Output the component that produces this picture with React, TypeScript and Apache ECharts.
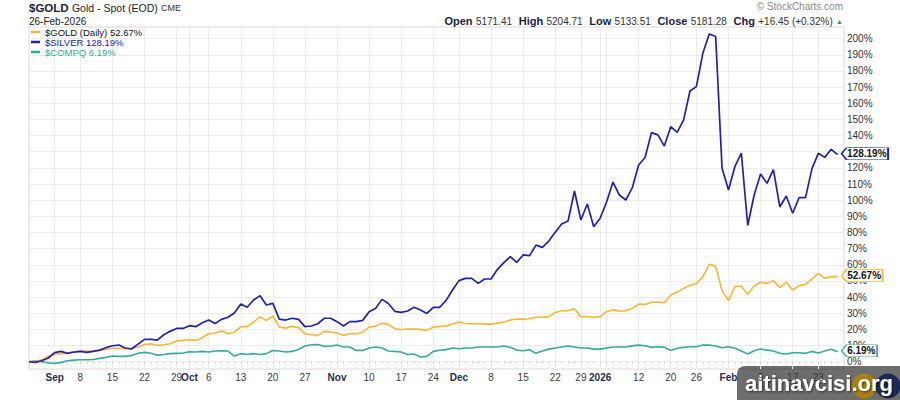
import React, { useEffect, useRef } from 'react';
import * as echarts from 'echarts';

const FONT = '"Liberation Sans", Arial, Helvetica, sans-serif';
const monthNames = ['Jan', 'Feb', 'Mar', 'Apr', 'May', 'Jun', 'Jul', 'Aug', 'Sep', 'Oct', 'Nov', 'Dec'];

// trading sessions: [year, monthIndex, days]
const sessions: [number, number, number[]][] = [
  [2025, 7, [26, 27, 28, 29]],
  [2025, 8, [2, 3, 4, 5, 8, 9, 10, 11, 12, 15, 16, 17, 18, 19, 22, 23, 24, 25, 26, 29, 30]],
  [2025, 9, [1, 2, 3, 6, 7, 8, 9, 10, 13, 14, 15, 16, 17, 20, 21, 22, 23, 24, 27, 28, 29, 30, 31]],
  [2025, 10, [3, 4, 5, 6, 7, 10, 11, 12, 13, 14, 17, 18, 19, 20, 21, 24, 25, 26, 28]],
  [2025, 11, [1, 2, 3, 4, 5, 8, 9, 10, 11, 12, 15, 16, 17, 18, 19, 22, 23, 24, 26, 29, 30, 31]],
  [2026, 0, [2, 5, 6, 7, 8, 9, 12, 13, 14, 15, 16, 20, 21, 22, 23, 26, 27, 28, 29, 30]],
  [2026, 1, [2, 3, 4, 5, 6, 9, 10, 11, 12, 13, 17, 18, 19, 20, 23, 24, 25, 26]],
];

// % change since start
const silver = [
  0, -0.4, 0.6, 2.3, 5.6, 6.4, 5.2, 6.0, 6.4, 5.8, 6.4, 7.2, 8.7, 9.9, 10.3, 8.5, 8.0, 10.9, 13.8, 13.8,
  13.4, 16.7, 18.8, 20.6, 20.6, 22.3, 21.7, 24.1, 25.8, 23.7, 26.2, 27.5, 30.2, 35.7, 33.7, 38.2, 40.9, 35.1, 36.1, 26.4,
  25.8, 26.9, 26.2, 21.7, 22.1, 23.5, 26.9, 26.9, 24.8, 22.1, 24.8, 24.8, 25.6, 31.0, 33.0, 38.6, 36.1, 31.2, 30.6, 31.4,
  33.7, 32.0, 29.9, 33.7, 33.7, 38.0, 44.4, 50.2, 51.6, 51.6, 48.5, 51.2, 51.2, 57.2, 61.3, 65.0, 61.5, 66.1, 65.7, 72.2,
  70.8, 74.7, 80.1, 85.2, 87.1, 105.7, 87.7, 97.6, 83.6, 88.8, 98.9, 111.2, 103.2, 100.1, 107.6, 121.8, 126.4, 141.8, 140.4, 133.5,
  145.5, 142.0, 149.6, 167.6, 170.3, 190.9, 202.9, 201.3, 119.7, 106.3, 120.8, 129.2, 84.3, 103.2, 116.2, 110.4, 118.9, 95.8, 102.6, 91.9,
  101.6, 101.6, 119.4, 129.0, 126.5, 131.5, 128.19,
];
const gold = [
  0, 0.2, 1.2, 3.3, 4.5, 5.0, 5.4, 6.0, 6.6, 6.6, 6.6, 7.0, 7.6, 8.3, 8.3, 8.0, 8.0, 9.1, 10.7, 11.1,
  10.1, 10.5, 11.1, 12.8, 13.2, 13.6, 13.2, 14.9, 17.3, 17.8, 19.0, 17.3, 18.3, 21.5, 21.9, 24.6, 27.7, 25.6, 28.3, 21.5,
  20.8, 21.9, 21.1, 17.3, 16.7, 16.3, 18.8, 18.4, 17.8, 16.3, 17.3, 17.3, 18.2, 21.5, 21.9, 23.9, 23.1, 20.4, 19.8, 20.2,
  20.2, 20.0, 19.4, 21.4, 21.8, 22.2, 23.3, 24.6, 23.7, 23.5, 23.7, 23.3, 23.3, 23.9, 24.4, 25.8, 26.4, 26.4, 26.6, 27.5,
  27.5, 27.9, 30.5, 31.6, 31.6, 32.8, 27.9, 27.9, 27.5, 27.9, 31.0, 32.2, 31.2, 31.6, 32.9, 35.7, 35.4, 36.8, 36.8, 36.5,
  41.3, 43.1, 45.4, 47.3, 48.3, 52.7, 60.3, 58.9, 44.0, 37.8, 46.5, 46.9, 41.7, 46.9, 49.2, 48.5, 50.2, 45.8, 49.2, 44.4,
  47.1, 47.9, 51.2, 54.7, 51.6, 52.7, 52.67,
];
const compq = [
  0, 0.6, 0, -0.6, -1.0, -0.4, 0.6, 1.0, 1.2, 1.2, 1.4, 2.1, 2.7, 3.5, 3.3, 3.3, 3.9, 5.2, 5.8, 5.2,
  4.1, 4.5, 5.0, 5.2, 5.4, 6.2, 6.0, 6.4, 6.0, 6.6, 6.8, 6.6, 3.5, 5.0, 4.5, 5.0, 4.5, 5.0, 7.0, 6.6,
  6.0, 6.4, 7.6, 9.7, 10.5, 10.7, 9.5, 9.7, 10.3, 9.1, 9.1, 7.0, 7.0, 8.5, 9.1, 8.5, 6.6, 6.4, 6.0, 4.5,
  4.7, 2.9, 3.3, 6.4, 7.1, 7.5, 8.5, 8.0, 8.5, 8.5, 9.1, 9.1, 9.1, 9.1, 9.7, 8.9, 7.2, 6.8, 7.4, 5.2,
  6.6, 7.8, 8.5, 9.1, 9.7, 9.1, 8.5, 8.5, 7.8, 7.8, 8.5, 9.1, 9.1, 9.1, 9.8, 10.3, 9.9, 8.9, 9.3, 8.9,
  7.0, 8.3, 8.9, 9.3, 9.3, 10.3, 10.3, 9.7, 8.7, 9.3, 8.3, 6.6, 4.8, 6.8, 7.9, 7.2, 6.6, 5.2, 4.8, 5.6,
  5.6, 5.2, 6.4, 5.4, 6.6, 7.7, 6.19,
];

const quoteLabels = ['Open', 'High', 'Low', 'Close'];
const quoteValues = ['5171.41', '5204.71', '5133.51', '5181.28'];
const quoteChange = '+16.45 (+0.32%)';

const COL_GOLD = '#f7b634';
const COL_SILVER = '#2222a8';
const COL_COMPQ = '#38a99b';

export default function App() {
  const ref = useRef<HTMLDivElement>(null);

  useEffect(() => {
    document.body.style.margin = '0';
    if (!ref.current) return;
    const chart = echarts.init(ref.current, undefined, { renderer: 'svg' });

    const dates: { y: number; m: number; d: number; dow: number }[] = [];
    sessions.forEach(([y, m, days]) =>
      days.forEach((d) => dates.push({ y, m, d, dow: new Date(y, m, d).getDay() }))
    );
    const categories = dates.map(
      (o) => `${o.y}-${String(o.m + 1).padStart(2, '0')}-${String(o.d).padStart(2, '0')}`
    );
    categories.push('');

    const tickSet = new Set<number>();
    const labelMap = new Map<number, string>();
    let lastMonthTick = -10;
    for (let i = 1; i < dates.length; i++) {
      const p = dates[i - 1];
      const c = dates[i];
      const monthStart = c.m !== p.m;
      const weekStart = c.dow <= p.dow;
      if (monthStart) {
        tickSet.add(i);
        labelMap.set(i, c.m === 0 ? `{m|${c.y}}` : `{m|${monthNames[c.m]}}`);
        lastMonthTick = i;
      } else if (weekStart) {
        tickSet.add(i);
        if (i - lastMonthTick > 1) labelMap.set(i, `{d|${c.d}}`);
      }
    }

    const lastIdx = dates.length - 1;
    const fmt = (v: number) => v.toFixed(2) + '%';

    const mkSeries = (name: string, data: number[], color: string, width: number) => {
      const last = data[data.length - 1];
      const txt = fmt(last);
      const w = 8 + txt.length * 5.5;
      return {
        name,
        type: 'line',
        data,
        showSymbol: false,
        clip: false,
        lineStyle: { color, width },
        itemStyle: { color },
        emphasis: { disabled: true },
        markPoint: {
          silent: true,
          animation: false,
          symbol: `path://M0,6L5,0L${w},0L${w},12L5,12Z`,
          symbolSize: [w, 12],
          symbolOffset: [w / 2 + 4, -1],
          itemStyle: { color: '#ffffff', borderColor: color, borderWidth: 1 },
          label: {
            show: true,
            position: 'inside',
            offset: [2, 0],
            formatter: txt,
            color: '#111',
            fontSize: 10,
            fontWeight: 'bold',
            fontFamily: FONT,
          },
          data: [{ coord: [categories[lastIdx], last] }],
        },
      };
    };

    const quoteRich =
      quoteLabels.map((l, i) => `{b|${l}} {v|${quoteValues[i]}}`).join('  ') +
      `  {b|Chg} {v|${quoteChange}} {g|▲}`;

    const option: any = {
      animation: false,
      backgroundColor: '#ffffff',
      grid: {
        left: 29,
        right: 56,
        top: 27,
        bottom: 31,
        show: true,
        borderColor: '#d9d9d9',
        borderWidth: 1,
        containLabel: false,
        outerBoundsMode: 'none',
      },
      legend: {
        orient: 'vertical',
        left: 31,
        top: 27,
        padding: 0,
        itemGap: 0,
        itemWidth: 9,
        itemHeight: 2.5,
        icon: 'rect',
        selectedMode: false,
        textStyle: { fontSize: 9.5, fontFamily: FONT, lineHeight: 10 },
        data: [
          { name: '$GOLD (Daily)', textStyle: { color: '#111' } },
          { name: '$SILVER', textStyle: { color: COL_SILVER } },
          { name: '$COMPQ', textStyle: { color: COL_COMPQ } },
        ],
        formatter: (name: string) => {
          const arr = name === '$SILVER' ? silver : name === '$COMPQ' ? compq : gold;
          return `${name} ${fmt(arr[arr.length - 1])}`;
        },
      },
      xAxis: {
        type: 'category',
        data: categories,
        boundaryGap: false,
        axisLine: { show: false },
        axisTick: { show: true, interval: 0, length: 2, lineStyle: { color: '#cfcfcf' } },
        axisLabel: {
          interval: (i: number) => labelMap.has(i),
          formatter: (_v: string, i: number) => labelMap.get(i) || '',
          margin: 3,
          fontFamily: FONT,
          rich: {
            m: { fontWeight: 'bold', color: '#1f2d4d', fontSize: 10, fontFamily: FONT },
            d: { color: '#3a3a3a', fontSize: 10, fontFamily: FONT },
          },
        },
        splitLine: {
          show: true,
          interval: (i: number) => tickSet.has(i),
          lineStyle: { color: '#ececec', width: 1 },
        },
      },
      yAxis: {
        type: 'value',
        position: 'right',
        min: -4.5,
        max: 207.2,
        splitNumber: 21,
        minInterval: 10,
        maxInterval: 10,
        axisLine: { show: false },
        axisTick: { show: false },
        axisLabel: {
          showMinLabel: false,
          showMaxLabel: false,
          formatter: '{value}%',
          fontSize: 10,
          color: '#333',
          fontFamily: FONT,
          margin: 3,
          padding: [0, 0, 5, 0],
        },
        splitLine: {
          show: true,
          showMinLine: false,
          showMaxLine: false,
          lineStyle: { color: '#ececec', width: 1 },
        },
      },
      series: [
        mkSeries('$COMPQ', compq, COL_COMPQ, 1.6),
        mkSeries('$GOLD (Daily)', gold, COL_GOLD, 1.6),
        mkSeries('$SILVER', silver, COL_SILVER, 1.7),
      ],
      graphic: [
        {
          type: 'text',
          left: 29,
          top: 2,
          style: {
            text: '{t|$GOLD} {s|Gold - Spot (EOD)} {c|CME}',
            rich: {
              t: { fontSize: 11.5, fontWeight: 'bold', fill: '#1b2340', fontFamily: FONT },
              s: { fontSize: 10.5, fill: '#222', fontFamily: FONT },
              c: { fontSize: 9, fill: '#333', fontFamily: FONT },
            },
          },
        },
        {
          type: 'text',
          x: 29,
          y: 21,
          style: {
            text: '26-Feb-2026',
            fontSize: 10,
            fill: '#222',
            fontFamily: FONT,
            verticalAlign: 'middle',
          },
        },
        {
          type: 'text',
          x: 843,
          y: 6,
          style: {
            text: '© StockCharts.com',
            fontSize: 10,
            fill: '#8a8a8a',
            fontFamily: FONT,
            align: 'right',
            verticalAlign: 'middle',
          },
        },
        {
          type: 'text',
          x: 843,
          y: 21,
          style: {
            text: quoteRich,
            align: 'right',
            verticalAlign: 'middle',
            rich: {
              b: { fontSize: 11, fontWeight: 'bold', fill: '#1b2340', fontFamily: FONT },
              v: { fontSize: 10, fill: '#333', fontFamily: FONT },
              g: { fontSize: 7, fill: '#2e9e3a', fontFamily: FONT },
            },
          },
        },
        {
          type: 'group',
          z: 100,
          children: [
            {
              type: 'rect',
              shape: { x: 737, y: 366, width: 180, height: 44, r: 8 },
              style: { fill: 'rgba(40,40,40,0.68)' },
            },
            {
              type: 'circle',
              shape: { cx: 864, cy: 386, r: 12.5 },
              style: { fill: '#a8800f' },
            },
            {
              type: 'circle',
              shape: { cx: 888, cy: 386, r: 12.5 },
              style: { fill: '#1b2a55' },
            },
            {
              type: 'text',
              x: 745,
              y: 383,
              style: {
                text: 'altinavcisi.org',
                fontSize: 22,
                fontWeight: 'bold',
                fill: '#ffffff',
                fontFamily: FONT,
                verticalAlign: 'middle',
                textShadowColor: 'rgba(0,0,0,0.6)',
                textShadowBlur: 2,
                textShadowOffsetX: 1,
                textShadowOffsetY: 1,
              },
            },
          ],
        },
      ],
    };

    chart.setOption(option);
    return () => chart.dispose();
  }, []);

  return (
    <div
      ref={ref}
      style={{ width: 900, height: 400, position: 'absolute', left: 0, top: 0, background: '#fff' }}
    />
  );
}
